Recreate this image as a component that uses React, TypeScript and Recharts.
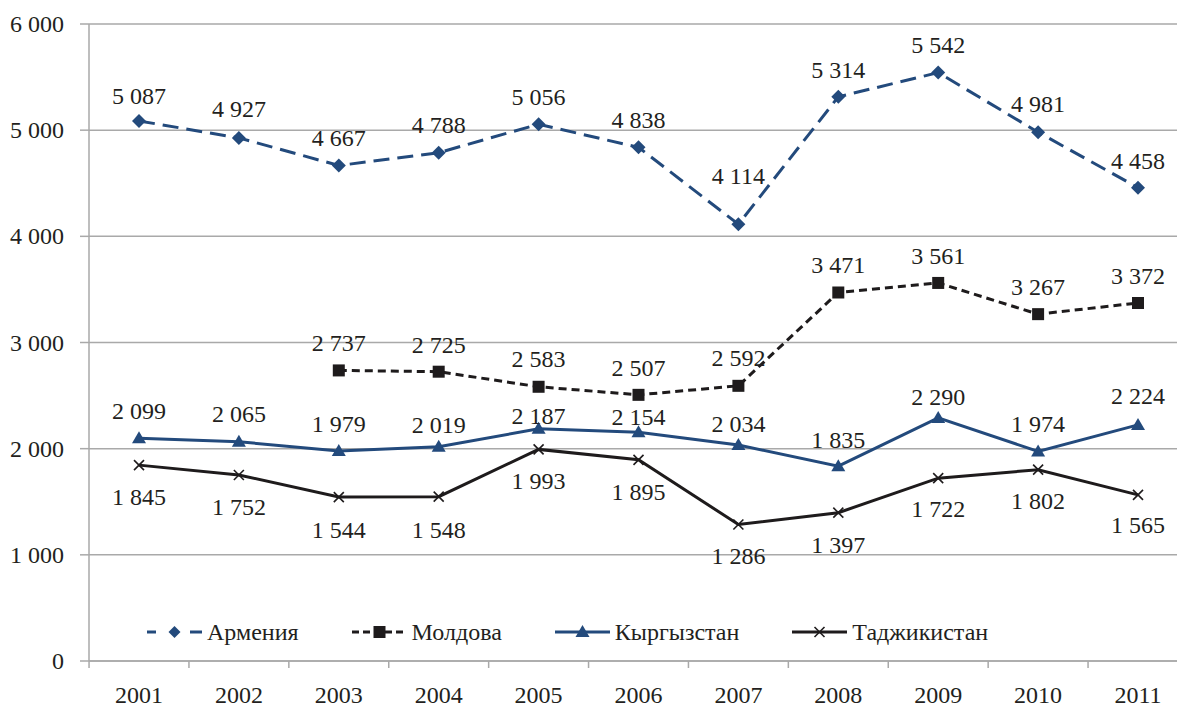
import React from 'react';
import { LineChart, Line, XAxis, YAxis, CartesianGrid, LabelList, Legend } from 'recharts';

const years = ['2001', '2002', '2003', '2004', '2005', '2006', '2007', '2008', '2009', '2010', '2011'];
const armenia = [5087, 4927, 4667, 4788, 5056, 4838, 4114, 5314, 5542, 4981, 4458];
const moldova = [null, null, 2737, 2725, 2583, 2507, 2592, 3471, 3561, 3267, 3372];
const kyrgyzstan = [2099, 2065, 1979, 2019, 2187, 2154, 2034, 1835, 2290, 1974, 2224];
const tajikistan = [1845, 1752, 1544, 1548, 1993, 1895, 1286, 1397, 1722, 1802, 1565];
const yTicks = [0, 1000, 2000, 3000, 4000, 5000, 6000];
const seriesNames = ['Армения', 'Молдова', 'Кыргызстан', 'Таджикистан'];

const data = years.map((y, i) => ({
  year: y,
  armenia: armenia[i],
  moldova: moldova[i],
  kyrgyzstan: kyrgyzstan[i],
  tajikistan: tajikistan[i],
}));

const FONT = "'Liberation Serif', 'Times New Roman', serif";
const BLUE = '#234A7C';
const BLACK = '#1E1B1C';
const TEXT = '#231F20';
const GRID = '#A9A9A9';

const CHART_W = 1200;
const CHART_H = 711;
const MARGIN = { top: 24, right: 12, left: 0, bottom: 0 };
const Y_W = 89;
const X_PAD = 50;
const PLOT_W = CHART_W - MARGIN.left - MARGIN.right - Y_W;
const STEP = (PLOT_W - 2 * X_PAD) / (years.length - 1);
const HALF = STEP / 2;

// label placement (pixels of vertical distance between point and label centre)
const LIFT_ARM = [25, 29, 28, 28, 27, 27, 48, 27, 28, 28, 27];
const LIFT_MOL = [27, 27, 27, 27, 28, 27, 28, 27, 27, 27, 27];
const LIFT_KYR = [27, 28, 27, 22, 13, 15, 21, 26, 21, 27, 29];
const DROP_TAJ = [32, 32, 33, 33, 32, 32, 32, 32, 31, 31, 30];

const textStyle = { fontFamily: FONT, fontSize: 24, fill: TEXT } as const;

const fmt = (v: number) => {
  const s = String(v);
  return s.length > 3 ? s.slice(0, -3) + ' ' + s.slice(-3) : s;
};

const Diamond = ({ cx, cy, size = 7 }: any) => (
  <path d={`M${cx} ${cy - size} L${cx + size} ${cy} L${cx} ${cy + size} L${cx - size} ${cy} Z`} fill={BLUE} />
);
const Square = ({ cx, cy }: any) => <rect x={cx - 6} y={cy - 6} width={12} height={12} fill={BLACK} />;
const Triangle = ({ cx, cy }: any) => (
  <path d={`M${cx} ${cy - 7} L${cx + 7} ${cy + 5} L${cx - 7} ${cy + 5} Z`} fill={BLUE} />
);
const Cross = ({ cx, cy }: any) => (
  <g stroke={BLACK} strokeWidth={1.6}>
    <line x1={cx - 5} y1={cy - 5} x2={cx + 5} y2={cy + 5} />
    <line x1={cx - 5} y1={cy + 5} x2={cx + 5} y2={cy - 5} />
  </g>
);

const makeDot = (Shape: any) => (props: any) => {
  const { cx, cy, index, value } = props;
  if (cy == null || value == null || Number.isNaN(cy)) return <g key={`d-${index}`} />;
  return <g key={`d-${index}`}><Shape cx={cx} cy={cy} /></g>;
};

// sign -1: above the point, +1: below the point
const makeLabel = (dist: number[], sign: number) => (props: any) => {
  const { x, y, value, index } = props;
  if (value == null || y == null) return null;
  const centre = y + sign * dist[index];
  return (
    <text key={`l-${index}`} x={x} y={centre + 8} textAnchor="middle" style={textStyle}>
      {fmt(value as number)}
    </text>
  );
};

const XTick = (props: any) => {
  const { x, y, payload, index } = props;
  return (
    <g>
      {index === 0 && <line x1={x - HALF} y1={y} x2={x - HALF} y2={y + 7} stroke={GRID} strokeWidth={1.5} />}
      <line x1={x + HALF} y1={y} x2={x + HALF} y2={y + 7} stroke={GRID} strokeWidth={1.5} />
      <text x={x} y={y + 42} textAnchor="middle" style={textStyle}>
        {payload.value}
      </text>
    </g>
  );
};

const YTick = (props: any) => {
  const { x, y, payload } = props;
  return (
    <text x={x} y={y + 8} textAnchor="end" style={textStyle}>
      {fmt(payload.value)}
    </text>
  );
};

const legendItems = [
  { name: seriesNames[0], kind: 'armenia' },
  { name: seriesNames[1], kind: 'moldova' },
  { name: seriesNames[2], kind: 'kyrgyzstan' },
  { name: seriesNames[3], kind: 'tajikistan' },
];

const LegendSymbol = ({ kind }: { kind: string }) => {
  if (kind === 'armenia') {
    return (
      <svg width={55} height={20} style={{ display: 'block' }}>
        <line x1={0} y1={10} x2={9} y2={10} stroke={BLUE} strokeWidth={3} />
        <line x1={43} y1={10} x2={55} y2={10} stroke={BLUE} strokeWidth={3} />
        <Diamond cx={27.5} cy={10} size={6} />
      </svg>
    );
  }
  if (kind === 'moldova') {
    return (
      <svg width={55} height={20} style={{ display: 'block' }}>
        <line x1={0} y1={10} x2={55} y2={10} stroke={BLACK} strokeWidth={3} strokeDasharray="7 4" />
        <Square cx={27.5} cy={10} />
      </svg>
    );
  }
  if (kind === 'kyrgyzstan') {
    return (
      <svg width={55} height={20} style={{ display: 'block' }}>
        <line x1={0} y1={10} x2={55} y2={10} stroke={BLUE} strokeWidth={3} />
        <Triangle cx={27.5} cy={10} />
      </svg>
    );
  }
  return (
    <svg width={55} height={20} style={{ display: 'block' }}>
      <line x1={0} y1={10} x2={55} y2={10} stroke={BLACK} strokeWidth={3} />
      <Cross cx={27.5} cy={10} />
    </svg>
  );
};

const LegendContent = () => (
  <div style={{ display: 'flex', alignItems: 'center', fontFamily: FONT, fontSize: 24, color: TEXT, height: 30 }}>
    {legendItems.map((it) => (
      <div key={it.kind} style={{ display: 'flex', alignItems: 'center', marginRight: 53 }}>
        <LegendSymbol kind={it.kind} />
        <span style={{ marginLeft: 5, lineHeight: '30px' }}>{it.name}</span>
      </div>
    ))}
  </div>
);

export default function App() {
  return (
    <div style={{ position: 'absolute', left: 0, top: 0, width: 1177, height: 711, overflow: 'hidden', background: '#fff' }}>
      <LineChart width={CHART_W} height={CHART_H} data={data} margin={MARGIN}>
        <CartesianGrid horizontal vertical={false} stroke={GRID} strokeWidth={1.5} />
        <XAxis
          dataKey="year"
          padding={{ left: X_PAD, right: X_PAD }}
          height={50}
          tickLine={false}
          tickSize={0}
          tickMargin={0}
          interval={0}
          axisLine={{ stroke: GRID, strokeWidth: 1.5 }}
          tick={<XTick />}
        />
        <YAxis
          width={Y_W}
          domain={[0, 6000]}
          ticks={yTicks}
          interval={0}
          tickSize={9}
          tickMargin={16}
          tickLine={{ stroke: GRID, strokeWidth: 1.5 }}
          axisLine={{ stroke: GRID, strokeWidth: 1.5 }}
          tick={<YTick />}
        />
        <Legend
          layout="horizontal"
          verticalAlign="middle"
          content={<LegendContent />}
          wrapperStyle={{ position: 'absolute', left: 147, top: 617, width: 'auto', height: 30 }}
        />
        <Line
          type="linear"
          dataKey="armenia"
          name={seriesNames[0]}
          stroke={BLUE}
          strokeWidth={3}
          strokeDasharray="16 8"
          dot={makeDot(Diamond)}
          activeDot={false}
          isAnimationActive={false}
        >
          <LabelList dataKey="armenia" content={makeLabel(LIFT_ARM, -1)} />
        </Line>
        <Line
          type="linear"
          dataKey="moldova"
          name={seriesNames[1]}
          stroke={BLACK}
          strokeWidth={3}
          strokeDasharray="8 5"
          dot={makeDot(Square)}
          activeDot={false}
          isAnimationActive={false}
        >
          <LabelList dataKey="moldova" content={makeLabel(LIFT_MOL, -1)} />
        </Line>
        <Line
          type="linear"
          dataKey="kyrgyzstan"
          name={seriesNames[2]}
          stroke={BLUE}
          strokeWidth={3}
          dot={makeDot(Triangle)}
          activeDot={false}
          isAnimationActive={false}
        >
          <LabelList dataKey="kyrgyzstan" content={makeLabel(LIFT_KYR, -1)} />
        </Line>
        <Line
          type="linear"
          dataKey="tajikistan"
          name={seriesNames[3]}
          stroke={BLACK}
          strokeWidth={3}
          dot={makeDot(Cross)}
          activeDot={false}
          isAnimationActive={false}
        >
          <LabelList dataKey="tajikistan" content={makeLabel(DROP_TAJ, 1)} />
        </Line>
      </LineChart>
    </div>
  );
}
